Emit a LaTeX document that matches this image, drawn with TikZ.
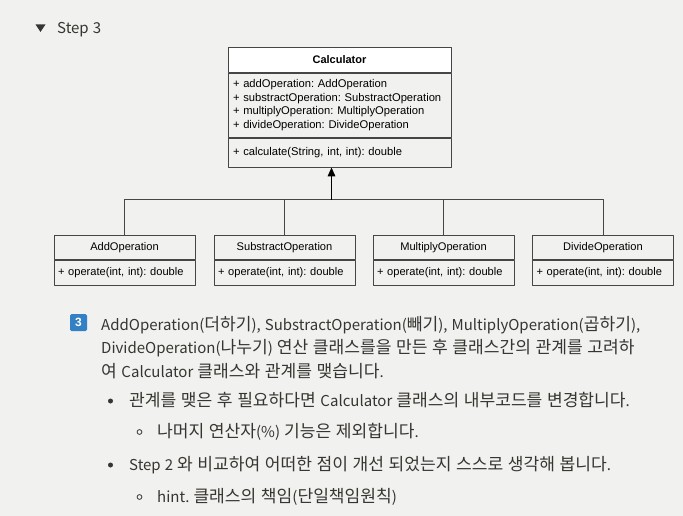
\documentclass[tikz,border=0pt]{standalone}
\usepackage{fontspec}
\setmainfont{Liberation Sans}
\newfontfamily\krfont[WordSpace=1.19]{Noto Sans CJK KR}
\usetikzlibrary{positioning,arrows.meta}
\frenchspacing

% Hangul set a little larger than the Latin letters around it
\XeTeXinterchartokenstate=1
\chardef\hangulcls=7
\newcount\hangulchar
\hangulchar="AC00
\loop
  \XeTeXcharclass\hangulchar=\hangulcls
  \ifnum\hangulchar<"D7A3 \advance\hangulchar by 1 \repeat
\let\tohangul\relax
\let\tolatin\relax
\XeTeXinterchartoks 0 \hangulcls = {\tohangul}
\XeTeXinterchartoks 4095 \hangulcls = {\tohangul}
\XeTeXinterchartoks \hangulcls 0 = {\tolatin}
\XeTeXinterchartoks 4095 0 = {\tolatin}
\newcommand\bodyfont{\krfont\fontsize{15}{18}\selectfont
  \def\tohangul{\fontsize{17.1}{18}\selectfont}%
  \def\tolatin{\fontsize{15}{18}\selectfont}}

\definecolor{pagebg}{RGB}{241,241,240}
\definecolor{umlline}{RGB}{70,70,70}
\definecolor{bodytext}{RGB}{55,53,47}
\definecolor{badgeblue}{RGB}{52,128,196}

\tikzset{
  calcpart/.style={draw=umlline, line width=0.8pt, minimum width=223pt, text width=213pt,
    inner sep=0pt, anchor=north, font=\fontsize{11.2}{13.6}\selectfont},
  oppart/.style={draw=umlline, line width=0.8pt, minimum width=141pt, text width=133pt,
    inner sep=0pt, anchor=north, font=\fontsize{11.1}{12}\selectfont},
  bodyline/.style={anchor=base west, inner sep=0pt, text=bodytext, font=\bodyfont},
}

\begin{document}
\begin{tikzpicture}[x=1pt, y=-1pt, line join=round]
  \fill[pagebg] (0,0) rectangle (683,516);
  \useasboundingbox (0,0) rectangle (683,516);

  % heading
  \fill[bodytext] (35.5,24.5) -- (45.5,24.5) -- (40.5,32) -- cycle;
  \node[bodyline] (steptitle) at (57,34) {Step 3};

  % Calculator class
  \node[calcpart, fill=white, minimum height=25pt, align=center,
        font=\bfseries\fontsize{11}{12}\selectfont] (calc) at (339.5,47) {Calculator};
  \node[calcpart, minimum height=64pt, below=0pt of calc, align=left] (calcattr)
    {+ addOperation: AddOperation\\
     + substractOperation: SubstractOperation\\
     + multiplyOperation: MultiplyOperation\\
     + divideOperation: DivideOperation};
  \node[calcpart, minimum height=29pt, below=0pt of calcattr, align=left] (calcop)
    {+ calculate(String, int, int): double};

  % operation classes
  \node[oppart, minimum height=24pt, align=center] (addop) at (124.5,235) {AddOperation};
  \node[oppart, minimum height=25pt, below=0pt of addop, align=left] (addopm) {+ operate(int, int): double};
  \node[oppart, minimum height=24pt, align=center] (subop) at (284.5,235) {SubstractOperation};
  \node[oppart, minimum height=25pt, below=0pt of subop, align=left] (subopm) {+ operate(int, int): double};
  \node[oppart, minimum height=24pt, align=center] (mulop) at (443.5,235) {MultiplyOperation};
  \node[oppart, minimum height=25pt, below=0pt of mulop, align=left] (mulopm) {+ operate(int, int): double};
  \node[oppart, minimum height=24pt, align=center] (divop) at (603,235) {DivideOperation};
  \node[oppart, minimum height=25pt, below=0pt of divop, align=left] (divopm) {+ operate(int, int): double};

  % relations
  \coordinate (hub) at (331.5,199.5);
  \draw[umlline, line width=0.8pt] (addop.north) -- (addop.north |- hub) -- (divop.north |- hub) -- (divop.north);
  \draw[umlline, line width=0.8pt] (subop.north) -- (subop.north |- hub);
  \draw[umlline, line width=0.8pt] (mulop.north) -- (mulop.north |- hub);
  \draw[black, line width=1.6pt, -{Triangle[length=9pt, width=7.5pt]}] (hub) -- (hub |- calcop.south);

  % description
  \node[fill=badgeblue, rounded corners=1.5pt, minimum size=17pt, inner sep=0pt, text=white,
        font=\bfseries\fontsize{12}{12}\selectfont] (badge) at (78.5,322.5) {3};
  \node[bodyline] (descone) at (101,330) {AddOperation(더하기), SubstractOperation(빼기), MultiplyOperation(곱하기),};
  \node[bodyline] (desctwo) at (101,353) {DivideOperation(나누기) 연산 클래스를을 만든 후 클래스간의 관계를 고려하};
  \node[bodyline] (descthree) at (101,377) {여 Calculator 클래스와 관계를 맺습니다.};

  \fill[bodytext] (110.5,401) circle (2.5pt);
  \node[bodyline] (itemone) at (129,406) {관계를 맺은 후 필요하다면 Calculator 클래스의 내부코드를 변경합니다.};
  \draw[bodytext, line width=0.8pt] (139.5,432) circle (2.4pt);
  \node[bodyline] (subone) at (157,437) {나머지 연산자(\%) 기능은 제외합니다.};
  \fill[bodytext] (110.5,465) circle (2.5pt);
  \node[bodyline] (itemtwo) at (129,470) {Step 2 와 비교하여 어떠한 점이 개선 되었는지 스스로 생각해 봅니다.};
  \draw[bodytext, line width=0.8pt] (139.5,497) circle (2.4pt);
  \node[bodyline] (subtwo) at (157,502) {hint. 클래스의 책임(단일책임원칙)};
\end{tikzpicture}
\end{document}
